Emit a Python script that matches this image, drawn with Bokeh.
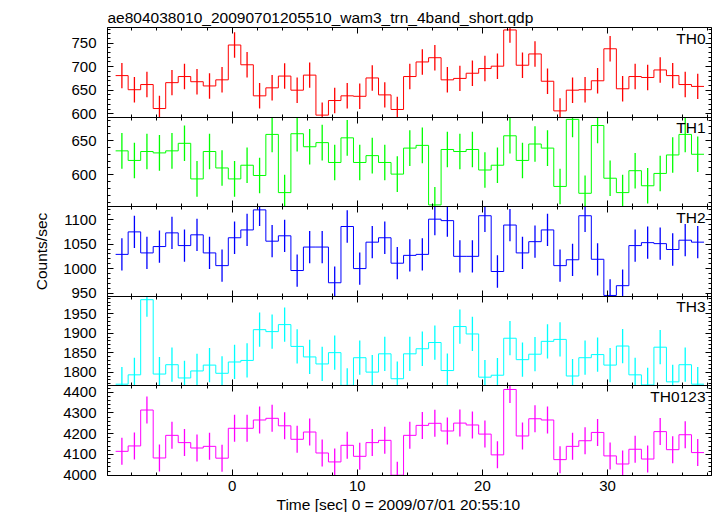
import math
from bokeh.plotting import figure
from bokeh.models import (Range1d, LinearAxis, SingleIntervalTicker, FixedTicker,
                          Label, Title)
from bokeh.embed import file_html
from bokeh.resources import INLINE

# ---------------- data ----------------
title_text = "ae804038010_20090701205510_wam3_trn_4band_short.qdp"
x_label = "Time [sec] 0 = 2009/07/01 20:55:10"
y_label = "Counts/sec"
panel_names = ["TH0", "TH1", "TH2", "TH3", "TH0123"]
colors = ["#ff0000", "#00ff00", "#0000ff", "#00ffff", "#ff00ff"]

# bin centres (s), bin width 1 s
time = [-8.8, -7.8, -6.8, -5.8, -4.8, -3.8, -2.8, -1.8, -0.8, 0.2,
        1.2, 2.2, 3.2, 4.2, 5.2, 6.2, 7.2, 8.2, 9.2, 10.2,
        11.2, 12.2, 13.2, 14.2, 15.2, 16.2, 17.2, 18.2, 19.2, 20.2,
        21.2, 22.2, 23.2, 24.2, 25.2, 26.2, 27.2, 28.2, 29.2, 30.2,
        31.2, 32.2, 33.2, 34.2, 35.2, 36.2, 37.2]
bin_width = 1.0

th0 = [681, 651, 662, 611, 666, 679, 668, 659, 672, 746,
       704, 638, 655, 680, 650, 682, 597, 628, 638, 637,
       676, 640, 609, 679, 710, 719, 672, 675, 686, 696,
       701, 778, 703, 727, 669, 606, 650, 651, 670, 738,
       653, 679, 677, 693, 681, 662, 658]
th1 = [635, 621, 634, 632, 635, 646, 594, 634, 610, 594,
       614, 599, 659, 574, 660, 641, 647, 618, 654, 618,
       628, 618, 601, 639, 643, 556, 637, 634, 637, 607,
       614, 657, 621, 645, 639, 583, 681, 573, 672, 595,
       574, 606, 584, 602, 629, 659, 630]
th2 = [1029, 1075, 1032, 1045, 1073, 1047, 1069, 1032, 1006, 1063,
       1079, 1120, 1056, 1067, 996, 1044, 1044, 971, 1086, 1000,
       1054, 1063, 1011, 1027, 1029, 1101, 1098, 1025, 1025, 1108,
       994, 1089, 1032, 1055, 1079, 1006, 1018, 1108, 1019, 945,
       965, 1047, 1053, 1051, 1039, 1058, 1054]
th3 = [1769, 1793, 1986, 1795, 1819, 1785, 1803, 1818, 1797, 1826,
       1830, 1909, 1904, 1922, 1866, 1839, 1821, 1850, 1766, 1837,
       1800, 1847, 1783, 1847, 1860, 1876, 1804, 1917, 1898, 1787,
       1792, 1887, 1832, 1846, 1879, 1884, 1790, 1837, 1845, 1818,
       1867, 1793, 1767, 1864, 1775, 1819, 1769]
th0123 = [4115, 4141, 4314, 4083, 4192, 4157, 4131, 4139, 4082, 4226,
          4226, 4266, 4274, 4238, 4173, 4208, 4107, 4064, 4144, 4091,
          4157, 4168, 4000, 4192, 4240, 4250, 4213, 4251, 4242, 4198,
          4098, 4413, 4189, 4272, 4266, 4075, 4139, 4166, 4206, 4093,
          4054, 4125, 4078, 4210, 4123, 4195, 4109]
series = [th0, th1, th2, th3, th0123]
# half-length of the error bars (counts/sec), read per panel
errors = [27, 26, 33, 44, 65]

x_limits = (-9.95, 38.3)
y_limits = [(592.8, 783.2), (553.4, 684.3), (943.3, 1126.5), (1764.6, 1994.7), (3998.6, 4430.2)]
y_major = [50, 50, 50, 50, 100]
x_major = 10

# ---------------- layout ----------------
FONT = "Liberation Sans"
N = len(series)
MAJ, MIN = 6, 3


def positions(lo, hi, step):
    out = []
    v = math.ceil(lo / step) * step
    while v <= hi + 1e-9:
        out.append(round(v, 6))
        v += step
    return out


p = figure(frame_width=604, frame_height=448,
           x_range=Range1d(*x_limits), y_range=Range1d(0, N),
           output_backend="svg", toolbar_location=None,
           x_axis_location=None, y_axis_location=None,
           min_border_left=107, min_border_right=5,
           min_border_top=27, min_border_bottom=0,
           title=title_text)
p.grid.visible = False
p.outline_line_color = "black"
p.outline_line_width = 1
p.background_fill_color = "white"
p.border_fill_color = "white"
p.title.align = "left"
p.title.offset = 0
p.title.standoff = 3
p.title.text_font = FONT
p.title.text_font_size = "15.5px"
p.title.text_font_style = "normal"
p.title.text_color = "black"


def bare_axes(place, lo, hi, major_step, minor_step, t_in, t_out, fixed, range_name=None, bounds=None):
    """Unlabelled tick axes: one for the major ticks, one for the minor ticks."""
    for step, ti, to in ((major_step, t_in, t_out), (minor_step, t_in // 2, t_out // 2)):
        ax = LinearAxis(ticker=FixedTicker(ticks=[], minor_ticks=positions(lo, hi, step)),
                        fixed_location=fixed)
        if range_name is not None:
            ax.y_range_name = range_name
        if bounds is not None:
            ax.bounds = bounds
        ax.major_tick_in = 0
        ax.major_tick_out = 0
        ax.minor_tick_in = int(ti)
        ax.minor_tick_out = int(to)
        ax.minor_tick_line_color = "black"
        ax.axis_line_color = "black"
        p.add_layout(ax, place)


# bottom labelled time axis
bx = LinearAxis(ticker=SingleIntervalTicker(interval=x_major, num_minor_ticks=5))
bx.major_tick_in = MAJ
bx.major_tick_out = 0
bx.minor_tick_in = MIN
bx.minor_tick_out = 0
bx.major_label_standoff = 5
bx.major_label_text_font = FONT
bx.major_label_text_font_size = "15px"
bx.major_label_text_color = "black"
bx.axis_line_color = "black"
p.add_layout(bx, "below")
p.add_layout(Title(text=x_label, align="left", offset=169, standoff=0,
                   text_font=FONT, text_font_size="15.5px", text_font_style="normal",
                   text_color="black"), "below")

# top frame ticks and panel separators
bare_axes("above", x_limits[0], x_limits[1], x_major, x_major // 5, MAJ, 0, fixed=N)
for k in range(1, N):
    bare_axes("below", x_limits[0], x_limits[1], x_major, x_major // 5, MAJ, MAJ, fixed=k)

label_ticks = []
label_text = {}
for i in range(N):
    lo, hi = y_limits[i]
    span = hi - lo
    band_lo = N - 1 - i  # panel i occupies [band_lo, band_lo + 1] of the main y range
    rname = "p%d" % i
    p.extra_y_ranges[rname] = Range1d(lo - band_lo * span, hi + (N - 1 - band_lo) * span)

    # where this panel's tick values fall on the shared left axis
    for v in positions(lo, hi, y_major[i]):
        pos = round(band_lo + (v - lo) / span, 6)
        label_ticks.append(pos)
        label_text[pos] = "%d" % v

    # left and right tick marks of this panel
    bare_axes("left", lo, hi, y_major[i], y_major[i] // 5, MAJ, 0,
              fixed=x_limits[0], range_name=rname, bounds=(lo, hi))
    bare_axes("right", lo, hi, y_major[i], y_major[i] // 5, MAJ, 0,
              fixed=x_limits[1], range_name=rname, bounds=(lo, hi))

    vals = series[i]
    err = errors[i]
    edges = [t - bin_width / 2 for t in time] + [time[-1] + bin_width / 2]
    steps = list(vals) + [vals[-1]]
    p.step(edges, steps, mode="after", line_color=colors[i], line_width=1,
           y_range_name=rname)
    p.segment(x0=time, y0=[max(v - err, lo) for v in vals],
              x1=time, y1=[min(v + err, hi) for v in vals],
              line_color=colors[i], line_width=1.3, y_range_name=rname)

    p.add_layout(Label(x=x_limits[1], y=band_lo + 1, x_offset=-6, y_offset=-2,
                       text=panel_names[i], text_align="right", text_baseline="top",
                       text_font=FONT, text_font_size="15.5px", text_color="black"))

# one shared left axis that carries every panel's tick labels
ly = LinearAxis(ticker=FixedTicker(ticks=label_ticks, minor_ticks=[]),
                major_label_overrides=label_text)
ly.major_tick_in = 0
ly.major_tick_out = 0
ly.axis_line_color = None
ly.major_label_standoff = 11
ly.major_label_text_font = FONT
ly.major_label_text_font_size = "15px"
ly.major_label_text_color = "black"
p.add_layout(ly, "left")
# y title, placed outside the tick labels
p.add_layout(Title(text=y_label, align="center", offset=-8, standoff=21,
                   text_font=FONT, text_font_size="15.5px", text_font_style="normal",
                   text_color="black"), "left")

html = file_html(p, INLINE)
with open("out.html", "w") as f:
    f.write(html)
